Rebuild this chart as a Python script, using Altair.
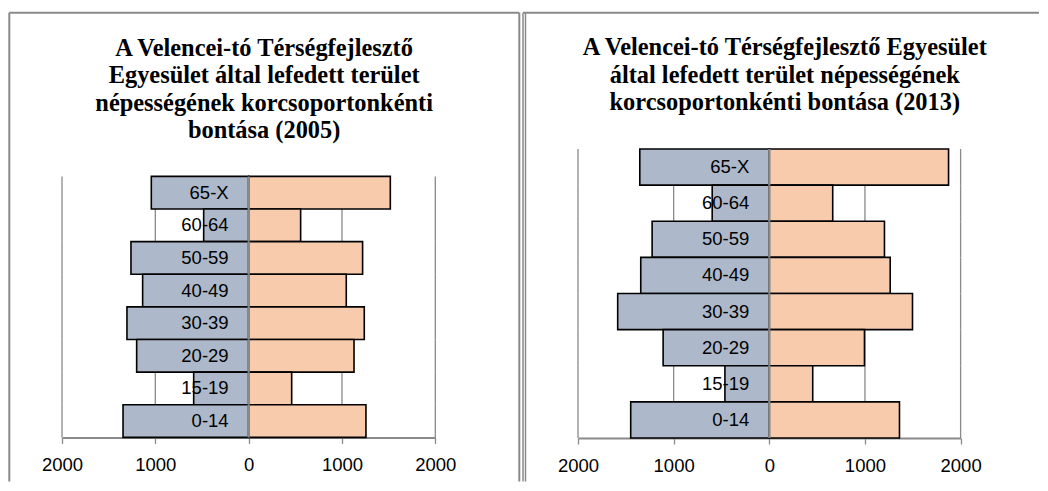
import altair as alt
import pandas as pd

ages = ["65-X", "60-64", "50-59", "40-49", "30-39", "20-29", "15-19", "0-14"]
male_2005 = [1043, 482, 1261, 1136, 1304, 1200, 589, 1346]
female_2005 = [1518, 557, 1221, 1046, 1239, 1129, 461, 1257]
male_2013 = [1354, 597, 1225, 1344, 1585, 1110, 464, 1449]
female_2013 = [1874, 663, 1204, 1264, 1497, 995, 454, 1361]
tick_values = [-2000, -1000, 0, 1000, 2000]
title_2005 = ["A Velencei-tó Térségfejlesztő", "Egyesület által lefedett terület",
              "népességének korcsoportonkénti", "bontása (2005)"]
title_2013 = ["A Velencei-tó Térségfejlesztő Egyesület",
              "által lefedett terület népességének",
              "korcsoportonkénti bontása (2013)"]

MALE_COLOR = "#ADB9CA"
FEMALE_COLOR = "#F8CBAD"
GRAY = "#8A8A8A"
SANS = "Liberation Sans"
SERIF = "Liberation Serif"


def panel(male, female, title, width, height, yrange, title_offset, frame):
    rows = []
    for a, m, f in zip(ages, male, female):
        rows.append({"age": a, "sex": "male", "value": -m})
        rows.append({"age": a, "sex": "female", "value": f})
    df = pd.DataFrame(rows)
    labels = pd.DataFrame({"age": ages})
    grid_df = pd.DataFrame([{"age": a, "tick": t} for a in ages for t in tick_values if t != 0])
    zero_df = pd.DataFrame([{"age": a, "tick": 0} for a in ages])
    one = pd.DataFrame({"k": [0]})

    xscale = alt.Scale(domain=[-2000, 2000], nice=False, zero=True)
    yscale = alt.Scale(paddingInner=0, paddingOuter=0, range=yrange)

    grid = alt.Chart(grid_df).mark_rect(fill=None, stroke=GRAY, strokeWidth=1.3).encode(
        x=alt.X("tick:Q", scale=xscale),
        x2="tick:Q",
        y=alt.Y("age:N", sort=ages, scale=yscale, axis=None),
    )
    bars = alt.Chart(df).mark_bar(stroke="black", strokeWidth=1.6).encode(
        x=alt.X("value:Q", scale=xscale,
                axis=alt.Axis(values=tick_values, labelExpr="abs(datum.value)",
                              title=None, grid=False, domainColor=GRAY, domainWidth=2,
                              tickColor=GRAY, tickWidth=1.3, tickSize=6,
                              labelFont=SANS, labelFontSize=18.5, labelColor="black",
                              labelPadding=12, labelFlush=False)),
        y=alt.Y("age:N", sort=ages, scale=yscale, axis=None),
        color=alt.Color("sex:N", scale=alt.Scale(domain=["male", "female"],
                                                  range=[MALE_COLOR, FEMALE_COLOR]),
                        legend=None),
    )
    zero = alt.Chart(zero_df).mark_rect(fill=None, stroke=GRAY, strokeWidth=2.2).encode(
        x=alt.X("tick:Q", scale=xscale),
        x2="tick:Q",
        y=alt.Y("age:N", sort=ages, scale=yscale, axis=None),
    )
    text = alt.Chart(labels).mark_text(align="right", baseline="middle", dx=-20,
                                       font=SANS, fontSize=18.5, color="black").encode(
        x=alt.datum(0),
        y=alt.Y("age:N", sort=ages, scale=yscale, axis=None),
        text="age:N",
    )
    frame_layers = []
    for (x1, x2, y1, y2, w) in frame:
        enc = {"x": alt.value(x1), "y": alt.value(y1)}
        if x2 is not None:
            enc["x2"] = alt.value(x2)
        if y2 is not None:
            enc["y2"] = alt.value(y2)
        frame_layers.append(
            alt.Chart(one).mark_rule(color=GRAY, strokeWidth=w).encode(**enc))

    return alt.layer(grid, bars, zero, text, *frame_layers).properties(
        width=width, height=height,
        title=alt.TitleParams(text=title, font=SERIF, fontSize=24.4, fontWeight="bold",
                              lineHeight=27.6, color="black", anchor="middle",
                              dx=15.5, offset=title_offset),
    )


left = panel(male_2005, female_2005, title_2005, 373.3, 288.4, [27.4, 288.4], -132,
             [(-52.7, 457.3, -136.3, None, 2),    # top
              (-52.7, None, -136.3, 332.5, 2),    # left
              (457.3, None, -136.3, 332.5, 2)])   # right
right = panel(male_2013, female_2013, title_2013, 382.6, 289, [0, 289], -104,
              [(-55, 461, -136.3, None, 2),       # top
               (-55, None, -136.3, 332.5, 1.5),   # double line
               (-52.5, None, -136.3, 332.5, 1.5)])

chart = alt.hconcat(left, right, spacing=1).properties(
    padding={"left": 0, "top": 3, "right": 0, "bottom": 0}
).configure_view(stroke=None)

chart.save("out.html", embed_options={"renderer": "svg", "actions": False})
